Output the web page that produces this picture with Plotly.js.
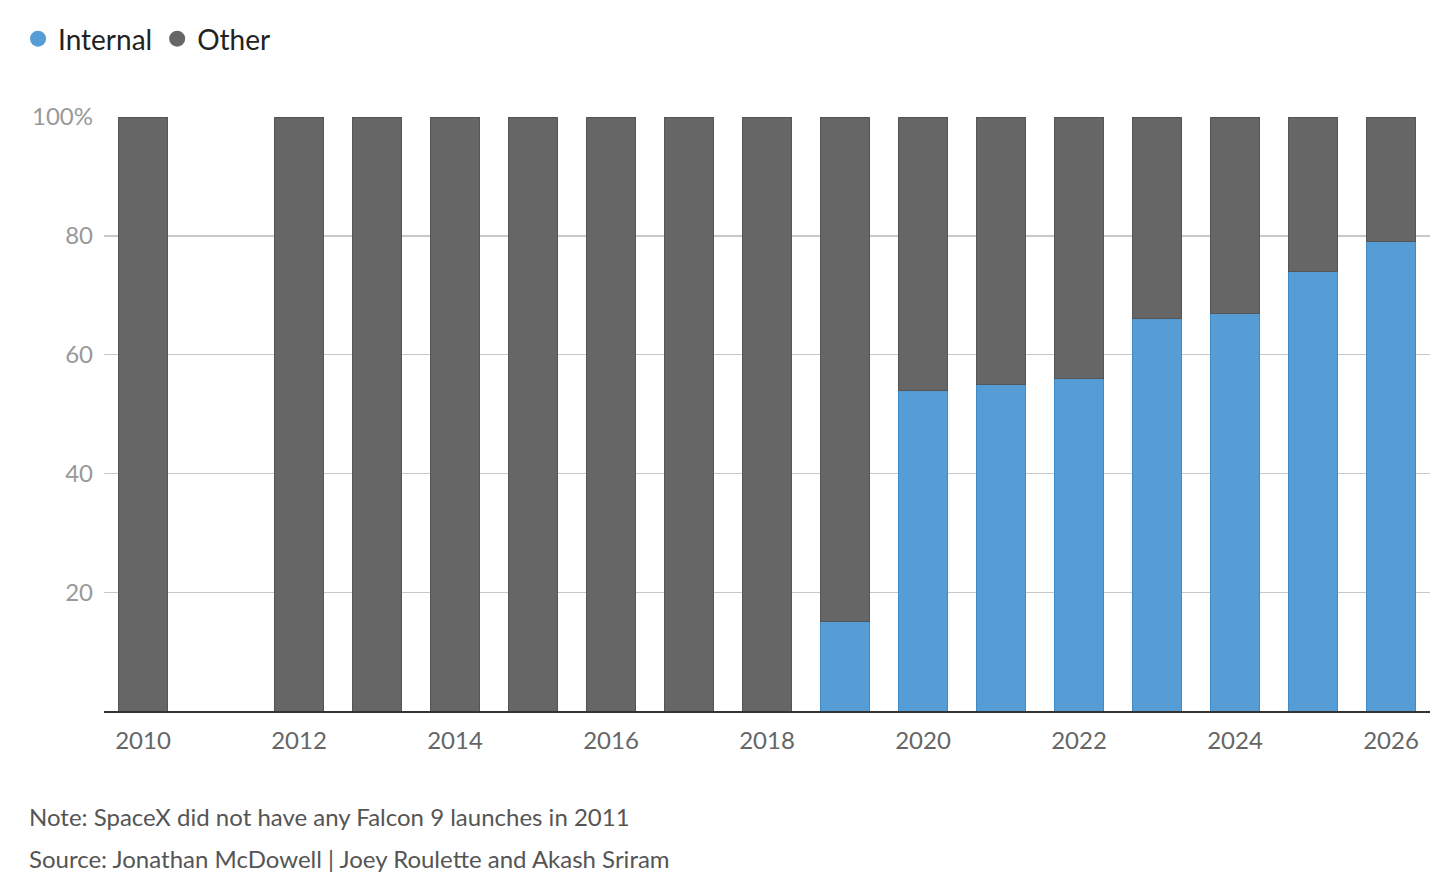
<!DOCTYPE html>
<html>
<head>
<meta charset="utf-8">
<script src="https://cdn.plot.ly/plotly-3.0.1.min.js"></script>
<style>
  html, body { margin: 0; padding: 0; background: #fff; }
  #chart { width: 1456px; height: 889px; }
</style>
</head>
<body>
<div id="chart"></div>
<script>
// Share of Falcon 9 launches, % (no launches in 2011)
const years = [2010, 2012, 2013, 2014, 2015, 2016, 2017, 2018, 2019, 2020, 2021, 2022, 2023, 2024, 2025, 2026];
const internal = [0, 0, 0, 0, 0, 0, 0, 0, 15, 54, 55, 56, 66, 67, 74, 79];
const other = [100, 100, 100, 100, 100, 100, 100, 100, 85, 46, 45, 44, 34, 33, 26, 21];

const yTicks = [20, 40, 60, 80, 100];
const yTickText = ['20', '40', '60', '80', '100%'];
const xTicks = [2010, 2012, 2014, 2016, 2018, 2020, 2022, 2024, 2026];

const blue = '#559dd4';
const grey = '#666666';
const font = 'Lato, "Open Sans", sans-serif';

const W = 1456, H = 889;
const M = { l: 104, r: 26, t: 117, b: 178 };
const plotW = W - M.l - M.r, plotH = H - M.t - M.b;
// pixel position -> paper fraction
const px = v => (v - M.l) / plotW;
const py = v => (H - M.b - v) / plotH;

const traces = [
  {
    type: 'bar', x: years, y: internal, name: 'Internal', showlegend: false,
    marker: { color: blue, line: { color: '#3f8bc8', width: 1 } }
  },
  {
    type: 'bar', x: years, y: other, name: 'Other', showlegend: false,
    marker: { color: grey, line: { color: '#555555', width: 1 } }
  },
  // legend entries only (round dots like the original)
  {
    type: 'scatter', mode: 'markers', x: [null], y: [null], name: 'Internal',
    marker: { color: blue, size: 16, symbol: 'circle' }
  },
  {
    type: 'scatter', mode: 'markers', x: [null], y: [null], name: 'Other',
    marker: { color: grey, size: 16, symbol: 'circle' }
  }
];

const layout = {
  width: W,
  height: H,
  margin: M,
  paper_bgcolor: '#fff',
  plot_bgcolor: '#fff',
  barmode: 'stack',
  bargap: 0.36,
  font: { family: font, color: '#222' },
  showlegend: true,
  legend: {
    orientation: 'h',
    traceorder: 'normal',
    xref: 'container', yref: 'container',
    x: 18 / W, y: 1 - 14 / H, xanchor: 'left', yanchor: 'top',
    font: { size: 28, color: '#222', family: font },
    itemwidth: 30,
    tracegroupgap: 0
  },
  xaxis: {
    range: [2009.5, 2026.5],
    tickvals: xTicks,
    ticks: '',
    showgrid: false,
    zeroline: false,
    showline: true,
    linecolor: '#333',
    linewidth: 2,
    ticklabelstandoff: 7,
    tickfont: { size: 24, color: '#666', family: font },
    fixedrange: true
  },
  yaxis: {
    range: [0, 100],
    tickvals: yTicks,
    ticktext: yTickText,
    ticks: '',
    showgrid: true,
    gridcolor: '#c8c8c8',
    gridwidth: 1.4,
    zeroline: false,
    showline: false,
    ticklabelstandoff: 10,
    tickfont: { size: 24, color: '#999', family: font },
    fixedrange: true
  },
  annotations: [
    {
      xref: 'paper', yref: 'paper', x: px(27), y: py(816),
      xanchor: 'left', yanchor: 'middle', showarrow: false,
      text: 'Note: SpaceX did not have any Falcon 9 launches in 2011',
      font: { size: 24, color: '#555', family: font }
    },
    {
      xref: 'paper', yref: 'paper', x: px(27), y: py(858),
      xanchor: 'left', yanchor: 'middle', showarrow: false,
      text: 'Source: Jonathan McDowell | Joey Roulette and Akash Sriram',
      font: { size: 24, color: '#555', family: font }
    }
  ]
};

Plotly.newPlot('chart', traces, layout, { displayModeBar: false, staticPlot: true });
</script>
</body>
</html>
